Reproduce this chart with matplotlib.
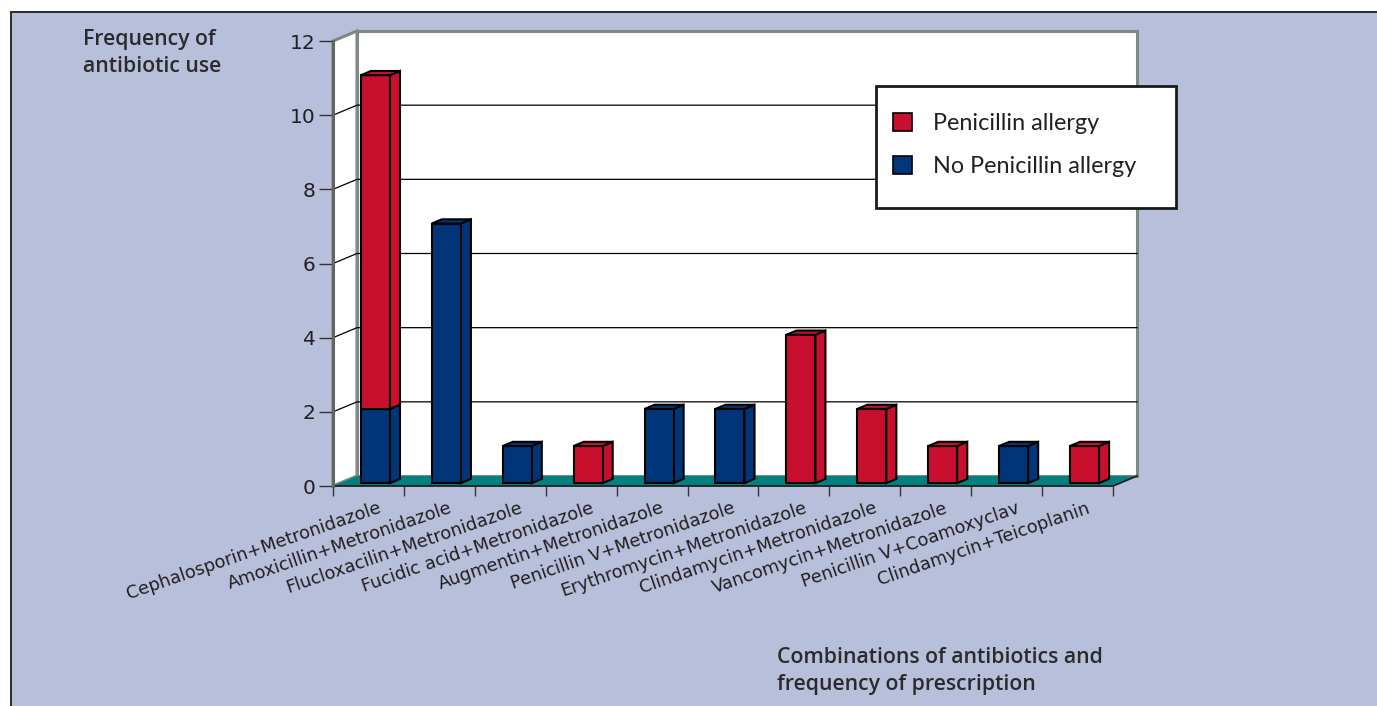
import matplotlib
matplotlib.use("Agg")
import matplotlib.pyplot as plt
import matplotlib.transforms as mtransforms
from matplotlib.patches import Polygon, Rectangle, Patch
from matplotlib.lines import Line2D

# ---- data -------------------------------------------------------------
categories = [
    "Cephalosporin+Metronidazole",
    "Amoxicillin+Metronidazole",
    "Flucloxacilin+Metronidazole",
    "Fucidic acid+Metronidazole",
    "Augmentin+Metronidazole",
    "Penicillin V+Metronidazole",
    "Erythromycin+Metronidazole",
    "Clindamycin+Metronidazole",
    "Vancomycin+Metronidazole",
    "Penicillin V+Coamoxyclav",
    "Clindamycin+Teicoplanin",
]
no_allergy = [2, 7, 1, 0, 2, 2, 0, 0, 0, 1, 0]
allergy = [9, 0, 0, 1, 0, 0, 4, 2, 1, 0, 1]
y_ticks = [0, 2, 4, 6, 8, 10, 12]
series_names = ["Penicillin allergy", "No Penicillin allergy"]

# ---- style ------------------------------------------------------------
RED = "#c8102e"
BLUE = "#00357a"
TEAL = "#00817f"
LAVENDER = "#b8bfdb"
WALL_EDGE = "#7f8886"
INK = "#231f20"

W, H = 1377, 706
fig = plt.figure(figsize=(W / 100, H / 100), dpi=100)
fig.patch.set_facecolor("white")


def fx(px):
    return px / W


def fy(py):
    return 1 - py / H


# framed lavender panel
fig.patches.append(Rectangle((fx(11), -0.02), 1.0, fy(12) + 0.02,
                             transform=fig.transFigure, facecolor=LAVENDER,
                             edgecolor="#2a2a2a", lw=1.4, zorder=-5))

# axes = front plane of the 3-D box
ax = fig.add_axes([fx(333), fy(486), fx(1113) - fx(333), fy(41) - fy(486)])
n = len(categories)
ymax = y_ticks[-1]
ax.set_xlim(0, n)
ax.set_ylim(0, ymax)
ax.patch.set_visible(False)
for s in ax.spines.values():
    s.set_visible(False)

# depth of the box expressed in data units (24 px right, 10 px up)
ux = (1113 - 333) / n
uy = (486 - 41) / ymax
DX, DY = 24 / ux, 10 / uy

# back wall, side wall, floor
ax.add_patch(Rectangle((DX, DY), n, ymax, facecolor="white",
                       edgecolor=WALL_EDGE, lw=2.2, zorder=1, clip_on=False))
ax.add_patch(Polygon([(0, 0), (DX, DY), (DX, ymax + DY), (0, ymax)],
                     closed=True, facecolor="white", edgecolor=WALL_EDGE,
                     lw=2.2, zorder=1, clip_on=False))
ax.add_patch(Polygon([(0, 0), (n, 0), (n + DX, DY), (DX, DY)], closed=True,
                     facecolor=TEAL, edgecolor="none", zorder=2, clip_on=False))
ax.add_line(Line2D([0, n, n + DX], [0, 0, DY], color=INK, lw=1.3,
                   zorder=3, clip_on=False))
ax.add_line(Line2D([0, 0], [0, ymax], color="#5f6664", lw=2.2,
                   zorder=3, clip_on=False))

# gridlines on side and back walls
for v in y_ticks[1:-1]:
    ax.add_line(Line2D([0, DX, n + DX], [v, v + DY, v + DY], color="black",
                       lw=0.9, zorder=2, clip_on=False))

# ---- bars -------------------------------------------------------------
BW = 29 / ux
F0, F1 = 0.29, 0.71
bdx, bdy = (F1 - F0) * DX, (F1 - F0) * DY
EDGE = dict(edgecolor="black", lw=1.5, joinstyle="miter", clip_on=False)

for i in range(n):
    x0 = i + 0.5 - BW / 2 + F0 * DX
    base = F0 * DY
    segments = []
    bottom = 0
    for val, col in ((no_allergy[i], BLUE), (allergy[i], RED)):
        if val > 0:
            segments.append((bottom, val, col))
            bottom += val
    for k, (b, h, col) in enumerate(segments):
        y0 = base + b
        y1 = y0 + h
        ax.add_patch(Polygon([(x0 + BW, y0), (x0 + BW + bdx, y0 + bdy),
                              (x0 + BW + bdx, y1 + bdy), (x0 + BW, y1)],
                             closed=True, facecolor=col, zorder=4, **EDGE))
        ax.add_patch(Rectangle((x0, y0), BW, h, facecolor=col, zorder=5, **EDGE))
        if k == len(segments) - 1:
            ax.add_patch(Polygon([(x0, y1), (x0 + BW, y1),
                                  (x0 + BW + bdx, y1 + bdy), (x0 + bdx, y1 + bdy)],
                                 closed=True, facecolor=col, zorder=5, **EDGE))

# ---- ticks and labels -------------------------------------------------
ax.set_yticks(y_ticks)
ax.set_yticklabels([str(t) for t in y_ticks])
ax.tick_params(axis="y", direction="out", length=10, width=1.0,
               color="#333333", labelsize=14.5, labelcolor=INK, pad=2.5)
ax.set_xticks(range(n + 1))
ax.set_xticklabels([""] * (n + 1))
ax.tick_params(axis="x", direction="out", length=7.5, width=1.0,
               color="#333333")

label_offset = mtransforms.ScaledTranslation(0.09, -0.13, fig.dpi_scale_trans)
for i, name in enumerate(categories):
    ax.text(i + 0.5, 0, name, transform=ax.transData + label_offset,
            rotation=19, rotation_mode="anchor", ha="right", va="top",
            fontsize=12.8, color=INK, family="DejaVu Sans")

title_font = dict(family="Open Sans", weight="semibold", fontsize=15.3,
                  color="#2b2b2b", linespacing=1.35)
fig.text(fx(83), fy(29), "Frequency of\nantibiotic use", ha="left", va="top",
         **title_font)
fig.text(fx(777), fy(647), "Combinations of antibiotics and\nfrequency of prescription",
         ha="left", va="top", **title_font)

# ---- legend -----------------------------------------------------------
fig.patches.append(Rectangle((fx(876), fy(208)), fx(1176) - fx(876), fy(86) - fy(208),
                             transform=fig.transFigure, facecolor="white",
                             edgecolor="#1a1a1a", lw=2.0, zorder=6))
handles = [Patch(facecolor=RED, edgecolor="black", lw=1.2),
           Patch(facecolor=BLUE, edgecolor="black", lw=1.2)]
leg = fig.legend(handles, series_names, loc="center left",
                 bbox_to_anchor=(fx(893), fy(145)), bbox_transform=fig.transFigure,
                 frameon=False, borderpad=0, borderaxespad=0,
                 handlelength=0.8, handleheight=0.8, handletextpad=0.9,
                 labelspacing=0.95, prop=dict(family="Lato", size=16.8))
leg.set_zorder(7)
for t in leg.get_texts():
    t.set_color(INK)

fig.savefig("out.png", dpi=100)
